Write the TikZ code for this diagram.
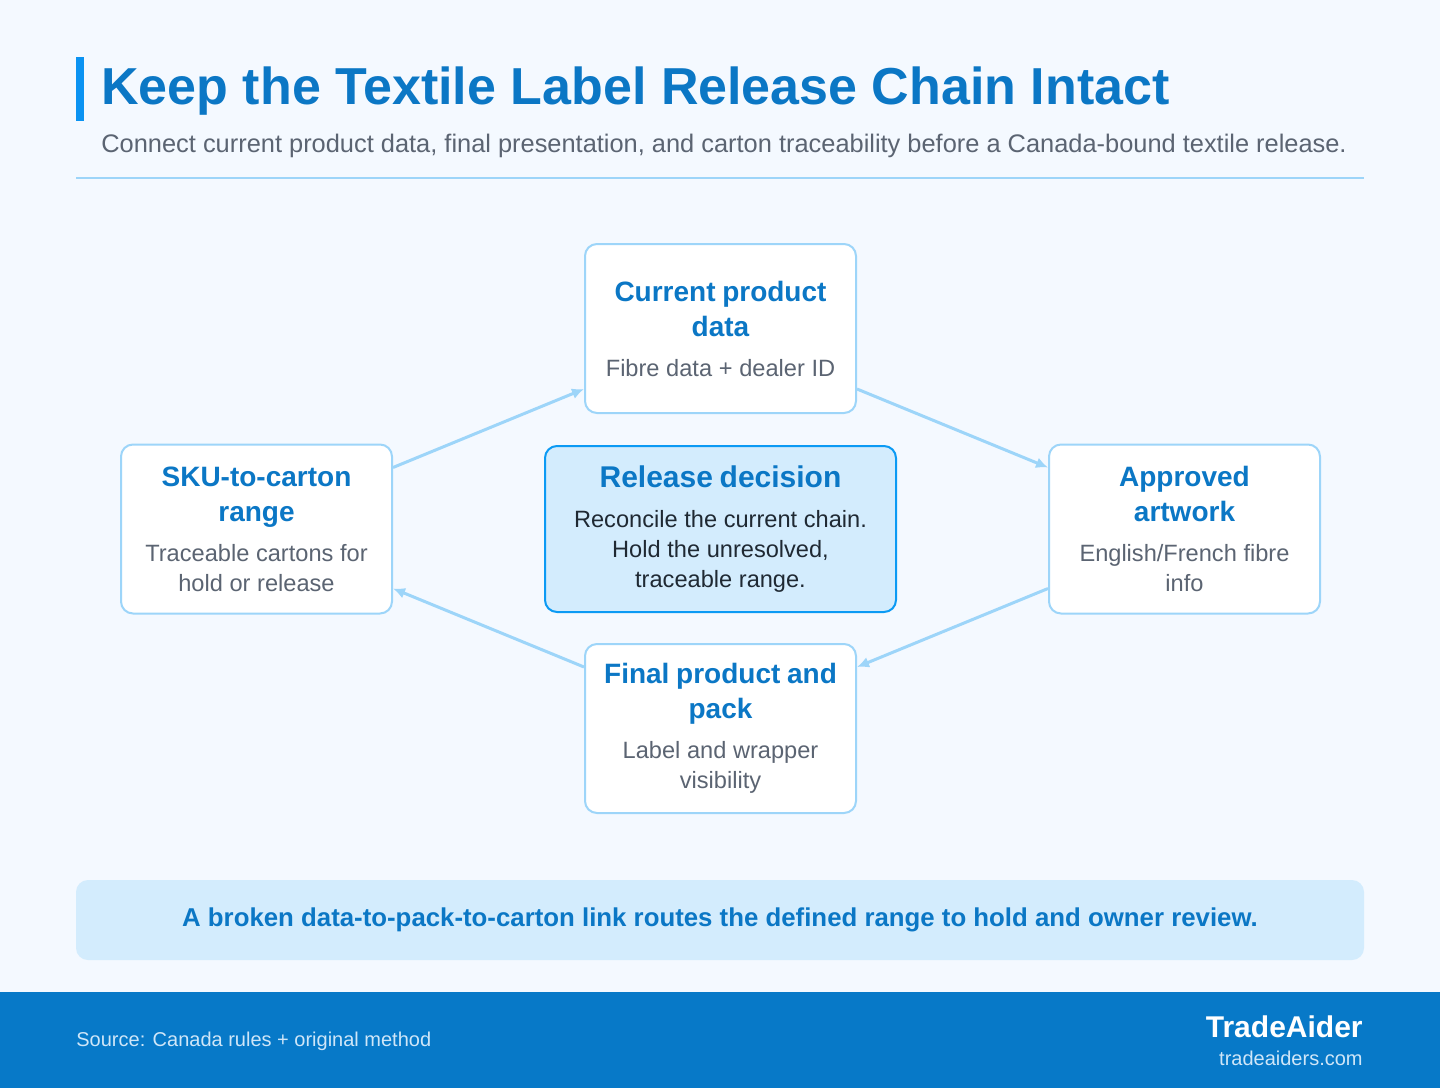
\documentclass[tikz,border=0pt]{standalone}
\usepackage{fontspec}
\setmainfont{Liberation Sans}
\usetikzlibrary{calc}
\usetikzlibrary{arrows.meta}
\usetikzlibrary{positioning}

\definecolor{pagebg}{HTML}{F4F9FF}
\definecolor{accent}{HTML}{0A93F2}
\definecolor{headblue}{HTML}{0B77C5}
\definecolor{subgray}{HTML}{5B6472}
\definecolor{paleline}{HTML}{9DD5F9}
\definecolor{hubfill}{HTML}{D3ECFD}
\definecolor{hubline}{HTML}{0B9AF4}
\definecolor{hubtext}{HTML}{1F2933}
\definecolor{footblue}{HTML}{0779C8}
\definecolor{footnote}{HTML}{CFE6F8}

\newcommand{\boxhead}[1]{{\fontsize{14}{17.5}\selectfont\bfseries\color{headblue}#1\par}}
\newcommand{\boxnote}[1]{{\vspace{5pt}\fontsize{11.8}{15}\selectfont\color{subgray}#1\par}}

\begin{document}
\begin{tikzpicture}[x=0.5pt,y=-0.5pt,
      box/.style ={rectangle, rounded corners=6pt, draw=paleline, line width=1pt, fill=white,
                   minimum width=135.5pt, minimum height=84.5pt, text width=128pt, align=center, inner sep=0pt},
      hub/.style ={box, draw=hubline, fill=hubfill, minimum width=175.5pt, minimum height=83pt, text width=170pt},
      banner/.style={rectangle, rounded corners=6pt, fill=hubfill, minimum width=644pt, minimum height=40pt,
                   font=\fontsize{12.9}{15}\selectfont\bfseries, text=headblue},
      link/.style={-{Latex[length=6pt,width=5.5pt]}, draw=paleline, line width=1.5pt},
      node distance=15.5pt and 75.5pt
    ]
    \useasboundingbox (0,0) rectangle (1440,1088);
    \fill [pagebg] (0,0) rectangle (1440,1088);

    % heading
    \fill [accent] (76,57) rectangle (84,121);
    \node [anchor=base west, inner sep=0pt, text=headblue, font=\fontsize{26}{30}\selectfont\bfseries] (title) at (101,104)
      {Keep the Textile Label Release Chain Intact};
    \node [anchor=base west, inner sep=0pt, text=subgray, font=\fontsize{12.7}{15}\selectfont] (subtitle) at (101,152.5)
      {Connect current product data, final presentation, and carton traceability before a Canada-bound textile release.};
    \draw [paleline, line width=1pt] (76,178) -- (1364,178);

    % chain
    \node [hub] (decision) at (720.5,529)
      {{\fontsize{15}{18}\selectfont\bfseries\color{headblue}Release decision\par}
       {\vspace{5pt}\fontsize{11.8}{15}\selectfont\color{hubtext}Reconcile the current chain.\\Hold the unresolved,\\traceable range.\par}};
    \node [box] (curdata) [above=of decision] {\boxhead{Current product\\data}\boxnote{Fibre data + dealer ID}};
    \node [box] (artwork) [right=of decision] {\boxhead{Approved\\artwork}\boxnote{English/French fibre\\info}};
    \node [box] (pack) [below=15pt of decision] {\boxhead{Final product and\\pack}\boxnote{Label and wrapper\\visibility}};
    \node [box] (cartons) [left=of decision] {\boxhead{SKU-to-carton\\range}\boxnote{Traceable cartons for\\hold or release}};

    \draw [link] ($(cartons.north east)+(0,24)$) -- ($(curdata.south west)+(0,-25)$);
    \draw [link] ($(curdata.south east)+(0,-25)$) -- ($(artwork.north west)+(0,24)$);
    \draw [link] ($(artwork.south west)+(0,-26)$) -- ($(pack.north east)+(0,24)$);
    \draw [link] ($(pack.north west)+(0,24)$) -- ($(cartons.south east)+(0,-26)$);

    \node [banner] (note) at (720,920)
      {A broken data-to-pack-to-carton link routes the defined range to hold and owner review.};

    % footer
    \fill [footblue] (0,992) rectangle (1440,1088);
    \node [anchor=base west, inner sep=0pt, text=footnote, font=\fontsize{10}{12}\selectfont] (source) at (76,1046)
      {Source: Canada rules + original method};
    \node [anchor=base east, inner sep=0pt, text=white, font=\fontsize{15}{18}\selectfont\bfseries] (brand) at (1363,1037)
      {TradeAider};
    \node [anchor=base east, inner sep=0pt, text=footnote, font=\fontsize{10}{12}\selectfont] (site) at (1363,1065)
      {tradeaiders.com};
  \end{tikzpicture}
\end{document}
